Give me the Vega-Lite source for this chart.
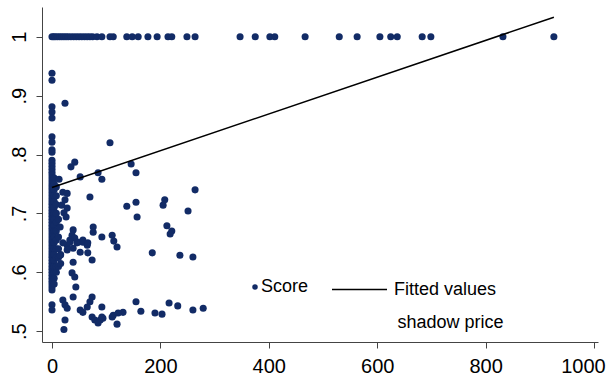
{
 "$schema": "https://vega.github.io/schema/vega-lite/v6.json",
 "width": 556, "height": 335,
 "autosize": {"type": "none"},
 "padding": {"left": 42, "top": 7, "right": 13, "bottom": 35},
 "background": "white",
 "config": {
  "view": {"stroke": null},
  "font": "Liberation Sans",
  "axis": {"grid": false, "domainColor": "#444", "tickColor": "#444", "labelColor": "black", "labelFont": "Liberation Sans", "labelFontSize": 20, "tickSize": 6}
 },
 "datasets": {
  "score": [
   {"x":0,"y":1},{"x":3,"y":1},{"x":6,"y":1},{"x":10,"y":1},{"x":14,"y":1},{"x":18,"y":1},{"x":22,"y":1},{"x":26,"y":1},{"x":30,"y":1},{"x":35,"y":1},{"x":40,"y":1},{"x":45,"y":1},{"x":50,"y":1},{"x":55,"y":1},{"x":60,"y":1},{"x":65,"y":1},{"x":70,"y":1},{"x":75,"y":1},{"x":83,"y":1},{"x":92,"y":1},{"x":107,"y":1},{"x":113,"y":1},{"x":138,"y":1},{"x":148,"y":1},{"x":159,"y":1},{"x":177,"y":1},{"x":194,"y":1},{"x":214,"y":1},{"x":221,"y":1},{"x":249,"y":1},{"x":264,"y":1},{"x":347,"y":1},{"x":375,"y":1},{"x":402,"y":1},{"x":411,"y":1},{"x":467,"y":1},{"x":530,"y":1},{"x":563,"y":1},{"x":605,"y":1},{"x":625,"y":1},{"x":637,"y":1},{"x":683,"y":1},{"x":699,"y":1},{"x":832,"y":1},{"x":926,"y":1},
   {"x":0,"y":0.938},{"x":0,"y":0.926},{"x":0,"y":0.881},{"x":0,"y":0.872},{"x":0,"y":0.862},{"x":0,"y":0.830},{"x":0,"y":0.821},{"x":0,"y":0.808},{"x":0,"y":0.804},
   {"x":0,"y":0.790},{"x":0,"y":0.785},{"x":0,"y":0.780},{"x":0,"y":0.775},{"x":0,"y":0.770},{"x":0,"y":0.765},{"x":0,"y":0.760},{"x":0,"y":0.755},{"x":0,"y":0.750},{"x":0,"y":0.745},{"x":0,"y":0.740},{"x":0,"y":0.735},{"x":0,"y":0.730},{"x":0,"y":0.725},{"x":0,"y":0.720},{"x":0,"y":0.715},{"x":0,"y":0.710},{"x":0,"y":0.705},{"x":0,"y":0.700},{"x":0,"y":0.695},{"x":0,"y":0.690},{"x":0,"y":0.685},{"x":0,"y":0.680},{"x":0,"y":0.675},{"x":0,"y":0.670},{"x":0,"y":0.665},{"x":0,"y":0.660},{"x":0,"y":0.655},{"x":0,"y":0.650},{"x":0,"y":0.645},{"x":0,"y":0.640},{"x":0,"y":0.635},{"x":0,"y":0.630},{"x":0,"y":0.625},{"x":0,"y":0.620},{"x":0,"y":0.615},{"x":0,"y":0.610},{"x":0,"y":0.605},{"x":0,"y":0.600},{"x":0,"y":0.595},{"x":0,"y":0.590},{"x":0,"y":0.585},{"x":0,"y":0.580},{"x":0,"y":0.575},{"x":0,"y":0.570},{"x":0,"y":0.545},{"x":0,"y":0.536},
   {"x":4,"y":0.76},{"x":4,"y":0.75},{"x":4,"y":0.74},{"x":4,"y":0.73},{"x":4,"y":0.72},{"x":4,"y":0.71},{"x":4,"y":0.70},{"x":4,"y":0.69},{"x":4,"y":0.68},{"x":4,"y":0.67},{"x":4,"y":0.66},{"x":4,"y":0.65},{"x":4,"y":0.64},{"x":4,"y":0.63},{"x":4,"y":0.62},{"x":4,"y":0.61},{"x":4,"y":0.60},{"x":4,"y":0.59},{"x":4,"y":0.58},
   {"x":8,"y":0.745},{"x":8,"y":0.73},{"x":8,"y":0.715},{"x":8,"y":0.70},{"x":8,"y":0.685},{"x":8,"y":0.67},{"x":8,"y":0.655},{"x":8,"y":0.64},{"x":8,"y":0.625},{"x":8,"y":0.61},{"x":8,"y":0.60},
   {"x":12,"y":0.64},{"x":12,"y":0.625},{"x":12,"y":0.61},{"x":12,"y":0.66},{"x":12,"y":0.69},{"x":16,"y":0.63},{"x":16,"y":0.615},
   {"x":24,"y":0.887},{"x":107,"y":0.820},{"x":42,"y":0.787},{"x":35,"y":0.779},{"x":52,"y":0.762},{"x":85,"y":0.769},{"x":92,"y":0.758},{"x":13,"y":0.758},{"x":146,"y":0.784},{"x":155,"y":0.769},{"x":264,"y":0.740},{"x":208,"y":0.723},{"x":205,"y":0.714},{"x":138,"y":0.712},{"x":155,"y":0.719},{"x":251,"y":0.704},{"x":157,"y":0.694},{"x":212,"y":0.679},{"x":221,"y":0.670},{"x":218,"y":0.665},{"x":111,"y":0.663},{"x":114,"y":0.653},{"x":120,"y":0.643},{"x":92,"y":0.660},{"x":185,"y":0.633},{"x":236,"y":0.629},{"x":260,"y":0.626},
   {"x":155,"y":0.550},{"x":164,"y":0.534},{"x":216,"y":0.548},{"x":232,"y":0.543},{"x":260,"y":0.536},{"x":279,"y":0.539},{"x":190,"y":0.531},{"x":203,"y":0.529},{"x":131,"y":0.532},{"x":122,"y":0.531},{"x":113,"y":0.527},{"x":94,"y":0.522},{"x":92,"y":0.541},{"x":120,"y":0.512},
   {"x":70,"y":0.728},{"x":20,"y":0.736},{"x":28,"y":0.734},{"x":24,"y":0.723},{"x":18,"y":0.714},{"x":28,"y":0.709},{"x":22,"y":0.701},{"x":26,"y":0.694},{"x":15,"y":0.677},{"x":39,"y":0.672},{"x":37,"y":0.663},{"x":42,"y":0.658},{"x":48,"y":0.651},{"x":33,"y":0.655},{"x":28,"y":0.646},{"x":76,"y":0.677},{"x":76,"y":0.668},{"x":57,"y":0.655},{"x":65,"y":0.646},
   {"x":20,"y":0.650},{"x":33,"y":0.651},{"x":46,"y":0.650},{"x":57,"y":0.651},{"x":66,"y":0.650},{"x":28,"y":0.638},{"x":39,"y":0.641},{"x":52,"y":0.634},{"x":15,"y":0.629},{"x":66,"y":0.633},{"x":74,"y":0.621},{"x":39,"y":0.617},{"x":37,"y":0.599},{"x":42,"y":0.592},{"x":44,"y":0.575},{"x":39,"y":0.558},{"x":20,"y":0.553},{"x":24,"y":0.545},{"x":28,"y":0.539},{"x":74,"y":0.558},{"x":70,"y":0.550},{"x":52,"y":0.536},{"x":57,"y":0.532},{"x":65,"y":0.541},{"x":24,"y":0.519},{"x":22,"y":0.503},{"x":74,"y":0.524},{"x":79,"y":0.519},{"x":89,"y":0.519},{"x":92,"y":0.524},{"x":85,"y":0.514},{"x":111,"y":0.524}
  ],
  "fit": [{"x":0,"y":0.744},{"x":926,"y":1.033}]
 },
 "layer": [
  {
   "data": {"name": "score"},
   "mark": {"type": "point", "filled": true, "shape": "circle", "size": 50, "opacity": 1},
   "encoding": {
    "x": {"field": "x", "type": "quantitative",
     "scale": {"domain": [-18.45, 1007.4], "nice": false, "zero": false},
     "axis": {"values": [0,200,400,600,800,1000], "format": "d", "title": "shadow price", "titleX": 408, "titleY": -20, "titleFontSize": 18, "titleFontWeight": "normal", "titleBaseline": "middle", "titleAlign": "center", "titleColor": "black", "titleFont": "Liberation Sans", "labelPadding": 8,
      "labelOffset": {"condition": {"test": "datum.value == 1000", "value": -11}, "value": 0}}},
    "y": {"field": "y", "type": "quantitative",
     "scale": {"domain": [0.4817, 1.0504], "nice": false, "zero": false},
     "axis": {"values": [0.5,0.6,0.7,0.8,0.9,1], "title": null, "labelAngle": 270, "labelAlign": "center", "labelBaseline": "alphabetic", "labelPadding": 11,
      "labelExpr": "datum.value == 1 ? '1' : replace(format(datum.value, '.1f'), '0.', '.')"}},
    "color": {"datum": "Score", "type": "nominal", "scale": {"domain": ["Score"], "range": ["#122b66"]},
     "legend": {"title": null, "orient": "none", "legendX": 204, "legendY": 271, "labelFontSize": 18, "labelColor": "black", "labelFont": "Liberation Sans", "symbolSize": 30, "labelOffset": -3, "padding": 0}}
   }
  },
  {
   "data": {"name": "fit"},
   "mark": {"type": "line", "strokeWidth": 1.5},
   "encoding": {
    "x": {"field": "x", "type": "quantitative"},
    "y": {"field": "y", "type": "quantitative"},
    "stroke": {"datum": "Fitted values", "type": "nominal", "scale": {"domain": ["Fitted values"], "range": ["black"]},
     "legend": {"title": null, "orient": "none", "legendX": 289, "legendY": 254, "symbolType": "stroke", "symbolSize": 3025, "symbolStrokeWidth": 1.5, "labelFontSize": 18, "labelColor": "black", "labelFont": "Liberation Sans", "labelOffset": 6, "padding": 0}}
   }
  }
 ]
}
